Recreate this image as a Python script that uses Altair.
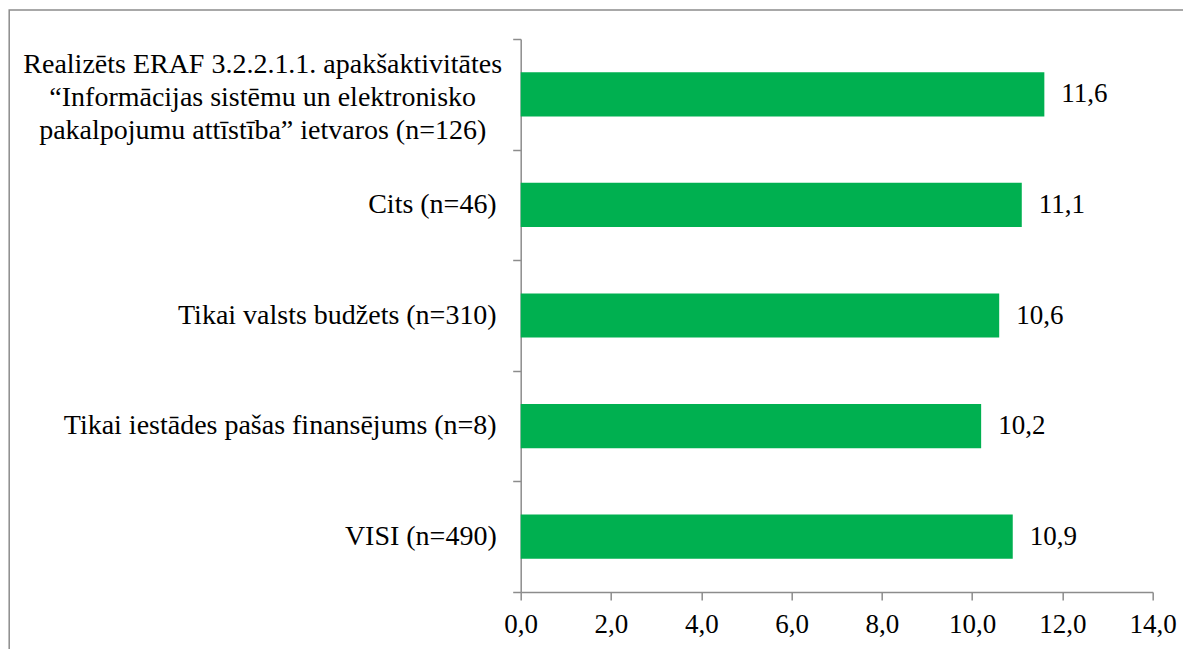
import altair as alt
import pandas as pd

categories = ["c1", "c2", "c3", "c4", "c5"]
labels = [
    "Realizēts ERAF 3.2.2.1.1. apakšaktivitātes|“Informācijas sistēmu un elektronisko|pakalpojumu attīstība” ietvaros (n=126)",
    "Cits (n=46)",
    "Tikai valsts budžets (n=310)",
    "Tikai iestādes pašas finansējums (n=8)",
    "VISI  (n=490)",
]
values = [11.6, 11.1, 10.6, 10.2, 10.9]
x_ticks = [0, 2, 4, 6, 8, 10, 12, 14]

df = pd.DataFrame({"cat": categories, "label": labels, "value": values})

FONT = "Liberation Serif"
FS_NUM = 27
FS_CAT = 28
GREY = "#8c8c8c"

W = 632
H = 553

base = alt.Chart(df).transform_calculate(
    valstr="replace(format(datum.value, '.1f'), '.', ',')",
    multi="indexof(datum.label, '|') >= 0",
)

yenc = alt.Y(
    "cat:N",
    sort=categories,
    scale=alt.Scale(paddingInner=0, paddingOuter=0),
    axis=alt.Axis(
        labels=False,
        title=None,
        ticks=True,
        tickSize=8,
        tickBand="extent",
        tickColor=GREY,
        tickWidth=1.5,
        domainColor=GREY,
        domainWidth=1.5,
        grid=False,
    ),
)

xenc = alt.X(
    "value:Q",
    scale=alt.Scale(domain=[0, 14], nice=False, zero=True),
    axis=alt.Axis(
        values=x_ticks,
        title=None,
        grid=False,
        tickSize=8,
        tickColor=GREY,
        tickWidth=1.5,
        domainColor=GREY,
        domainWidth=1.5,
        labelFont=FONT,
        labelFontSize=FS_NUM,
        labelColor="black",
        labelPadding=12,
        labelFlush=False,
        labelExpr="replace(format(datum.value, '.1f'), '.', ',')",
    ),
)

bars = base.mark_bar(color="#00B050", height={"band": 0.4}).encode(x=xenc, y=yenc)

vals = base.mark_text(
    align="left", baseline="middle", dx=17, font=FONT, fontSize=FS_NUM, color="black"
).encode(x="value:Q", y=alt.Y("cat:N", sort=categories), text="valstr:N")

single = base.transform_filter("!datum.multi").mark_text(
    align="right", baseline="middle", font=FONT, fontSize=FS_CAT, color="black"
).encode(x=alt.value(-24), y=alt.Y("cat:N", sort=categories), text="label:N")

multi = base.transform_filter("datum.multi").mark_text(
    align="center", baseline="middle", font=FONT, fontSize=FS_CAT, color="black",
    lineBreak="|", lineHeight=33, dy=-29.5,
).encode(x=alt.value(-258), y=alt.Y("cat:N", sort=categories), text="label:N")

border = alt.Chart(pd.DataFrame({"k": [0]})).mark_rect(
    fill="transparent", stroke=GREY, strokeWidth=1.5
).encode(
    x=alt.value(-511.5), x2=alt.value(900), y=alt.value(-29), y2=alt.value(900)
)

chart = alt.layer(border, bars, vals, single, multi).properties(
    width=W,
    height=H,
    autosize=alt.AutoSizeParams(type="none"),
    padding={"left": 512.7, "top": 31, "right": 30, "bottom": 57},
).configure_view(stroke=None)

chart.save("out.html", embed_options={"renderer": "svg", "actions": False})
